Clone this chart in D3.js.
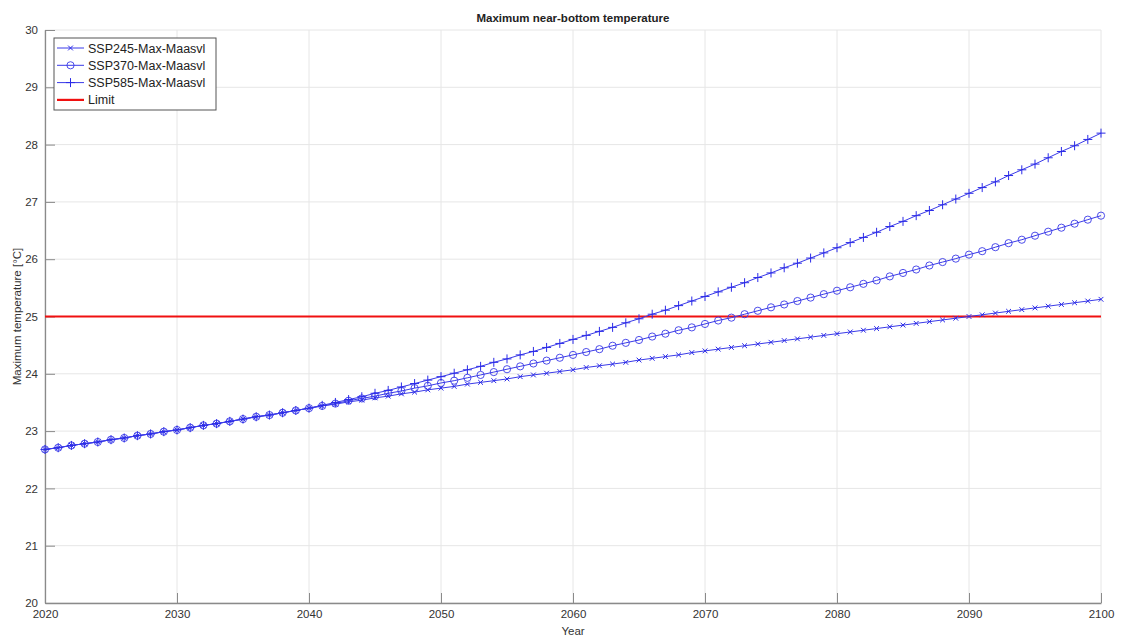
<!DOCTYPE html>
<html><head><meta charset="utf-8">
<script src="https://cdn.jsdelivr.net/npm/d3@7"></script>
<style>
html,body{margin:0;padding:0;background:#fff;}
text{font-family:"Liberation Sans",Arial,Helvetica,sans-serif;}
</style></head>
<body><svg id="c" width="1127" height="636"></svg>
<script>
const years = d3.range(2020, 2101);
const common = [22.68,22.71,22.75,22.78,22.81,22.85,22.88,22.92,22.95,22.99,
 23.02,23.06,23.10,23.13,23.17,23.21,23.25,23.28,23.32,23.36,23.40];
const ssp245Tail = [23.44,23.47,23.51,23.54,23.58,23.61,23.65,23.68,23.72,23.75,
 23.78,23.82,23.85,23.88,23.91,23.95,23.98,24.01,24.04,24.07,
 24.11,24.14,24.17,24.20,24.24,24.27,24.30,24.33,24.37,24.40,
 24.43,24.46,24.49,24.52,24.55,24.58,24.61,24.64,24.67,24.70,
 24.73,24.76,24.79,24.82,24.85,24.88,24.91,24.94,24.97,25.00,
 25.03,25.06,25.09,25.12,25.15,25.18,25.21,25.24,25.27,25.30];
const ssp370Tail = [23.44,23.48,23.53,23.57,23.61,23.66,23.70,23.75,23.79,23.84,
 23.88,23.93,23.98,24.03,24.08,24.13,24.18,24.23,24.28,24.33,
 24.38,24.43,24.49,24.54,24.59,24.65,24.70,24.76,24.81,24.87,
 24.93,24.98,25.04,25.10,25.16,25.21,25.27,25.33,25.39,25.45,
 25.51,25.57,25.63,25.70,25.76,25.82,25.89,25.95,26.01,26.08,
 26.14,26.21,26.28,26.34,26.41,26.48,26.55,26.62,26.69,26.76];
const ssp585Tail = [23.45,23.50,23.55,23.60,23.66,23.71,23.77,23.83,23.89,23.95,
 24.01,24.07,24.13,24.20,24.26,24.33,24.39,24.46,24.53,24.60,
 24.67,24.74,24.81,24.89,24.96,25.04,25.11,25.19,25.27,25.35,
 25.43,25.51,25.59,25.68,25.76,25.85,25.93,26.02,26.11,26.20,
 26.29,26.38,26.47,26.57,26.66,26.76,26.85,26.95,27.05,27.15,
 27.25,27.35,27.46,27.56,27.66,27.77,27.88,27.98,28.09,28.20];
const seriesNames = ["SSP245-Max-Maasvl","SSP370-Max-Maasvl","SSP585-Max-Maasvl"];
const seriesMarkers = ["x","o","+"];
const seriesValues = [common.concat(ssp245Tail), common.concat(ssp370Tail), common.concat(ssp585Tail)];
const limitValue = 25;
const limitName = "Limit";
const xTicks = [2020,2030,2040,2050,2060,2070,2080,2090,2100];
const yTicks = [20,21,22,23,24,25,26,27,28,29,30];

const svg = d3.select("#c");
const L = 45, R = 1101, T = 30, B = 603;
const x = d3.scaleLinear().domain([2020,2100]).range([L,R]);
const y = d3.scaleLinear().domain([20,30]).range([B,T]);

// grid
const g = svg.append("g");
g.selectAll(".gx").data(xTicks).enter().append("line")
 .attr("x1",d=>x(d)).attr("x2",d=>x(d)).attr("y1",T).attr("y2",B)
 .attr("stroke","#e6e6e6").attr("stroke-width",1);
g.selectAll(".gy").data(yTicks).enter().append("line")
 .attr("x1",L).attr("x2",R).attr("y1",d=>y(d)).attr("y2",d=>y(d))
 .attr("stroke","#e6e6e6").attr("stroke-width",1);

// axes
const xa = svg.append("g").attr("transform",`translate(0,${B})`)
 .call(d3.axisBottom(x).tickValues(xTicks).tickFormat(d3.format("d")).tickSizeInner(-10).tickSizeOuter(0).tickPadding(7));
const ya = svg.append("g").attr("transform",`translate(${L},0)`)
 .call(d3.axisLeft(y).tickValues(yTicks).tickFormat(d3.format("d")).tickSizeInner(-10).tickSizeOuter(0).tickPadding(7));
[xa,ya].forEach(a=>{
 a.select(".domain").attr("stroke","#8a8a8a").attr("stroke-width",1.3);
 a.selectAll(".tick line").attr("stroke","#8a8a8a");
 a.selectAll("text").attr("fill","#333").style("font-size","11.5px").style("font-family","'Liberation Sans',Arial,sans-serif");
});

// limit line
svg.append("line").attr("x1",x(2020)).attr("x2",x(2100)).attr("y1",y(limitValue)).attr("y2",y(limitValue))
 .attr("stroke","#f01010").attr("stroke-width",2.2);

// series
const line = d3.line().x((d,i)=>x(years[i])).y(d=>y(d));
function marker(sel, type, cx, cy){
 if(type==="o"){
  sel.append("circle").attr("cx",cx).attr("cy",cy).attr("r",3.6).attr("fill","none").attr("stroke","#3a3ae8").attr("stroke-width",0.9);
 } else if(type==="x"){
  const s=2.4;
  sel.append("path").attr("d",`M${cx-s},${cy-s}L${cx+s},${cy+s}M${cx-s},${cy+s}L${cx+s},${cy-s}`).attr("stroke","#2a2ae8").attr("stroke-width",1);
 } else {
  const s=4.5;
  sel.append("path").attr("d",`M${cx-s},${cy}L${cx+s},${cy}M${cx},${cy-s}L${cx},${cy+s}`).attr("stroke","#2a2ae8").attr("stroke-width",1);
 }
}
seriesValues.forEach((vals,k)=>{
 const sg = svg.append("g");
 sg.append("path").datum(vals).attr("d",line).attr("fill","none").attr("stroke","#3a3ae8").attr("stroke-width",1);
 vals.forEach((v,i)=>marker(sg, seriesMarkers[k], x(years[i]), y(v)));
});

// title and labels
svg.append("text").attr("x",(L+R)/2).attr("y",22).attr("text-anchor","middle")
 .style("font-size","11.5px").style("font-weight","bold").attr("fill","#222").text("Maximum near-bottom temperature");
svg.append("text").attr("x",(L+R)/2).attr("y",635).attr("text-anchor","middle")
 .style("font-size","11.5px").attr("fill","#333").text("Year");
svg.append("text").attr("transform",`translate(21,${(T+B)/2}) rotate(-90)`).attr("text-anchor","middle")
 .style("font-size","11.5px").attr("fill","#333").text("Maximum temperature [°C]");

// legend
const lg = svg.append("g");
lg.append("rect").attr("x",54).attr("y",38).attr("width",162).attr("height",72)
 .attr("fill","#fff").attr("stroke","#555").attr("stroke-width",1);
const rows = seriesNames.concat([limitName]);
rows.forEach((n,i)=>{
 const cy = 48 + i*17.3;
 if(i<3){
  lg.append("line").attr("x1",57).attr("x2",84).attr("y1",cy).attr("y2",cy).attr("stroke","#3a3ae8").attr("stroke-width",1);
  marker(lg, seriesMarkers[i], 70.5, cy);
 } else {
  lg.append("line").attr("x1",57).attr("x2",84).attr("y1",cy).attr("y2",cy).attr("stroke","#f01010").attr("stroke-width",2.2);
 }
 lg.append("text").attr("x",88).attr("y",cy+4.5).style("font-size","12.5px").attr("fill","#222").text(n);
});
</script></body></html>
